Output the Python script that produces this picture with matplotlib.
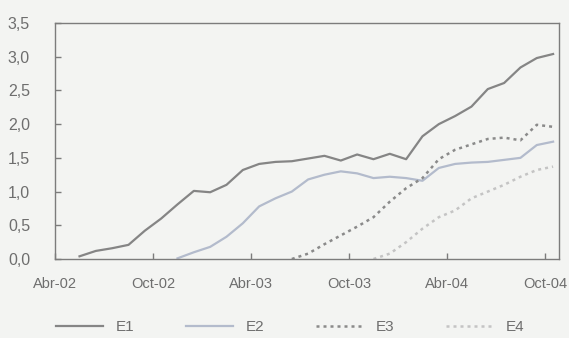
import numpy as np
import matplotlib
matplotlib.use("Agg")
import matplotlib.pyplot as plt

plt.rcParams['font.family'] = ['Liberation Sans', 'DejaVu Sans']

# monthly index counted from Abr-02 (0 = Abr-02)
tick_pos = [0, 6, 12, 18, 24, 30]
tick_labels = ['Abr-02', 'Oct-02', 'Abr-03', 'Oct-03', 'Abr-04', 'Oct-04']

e1_months = list(range(1, 31))
e1 = [0.04, 0.12, 0.16, 0.21, 0.42, 0.60, 0.81, 1.01, 0.99, 1.10,
      1.32, 1.41, 1.44, 1.45, 1.49, 1.53, 1.46, 1.55, 1.48, 1.56,
      1.48, 1.82, 2.00, 2.12, 2.26, 2.52, 2.61, 2.84, 2.98, 3.04]

e2_months = list(range(7, 31))
e2 = [0.01, 0.10, 0.18, 0.33, 0.53, 0.78, 0.90, 1.00, 1.18, 1.25,
      1.30, 1.27, 1.20, 1.22, 1.20, 1.16, 1.35, 1.41, 1.43, 1.44,
      1.47, 1.50, 1.69, 1.74]

e3_months = list(range(14, 31))
e3 = [0.00, 0.08, 0.22, 0.35, 0.48, 0.62, 0.85, 1.05, 1.20, 1.48,
      1.62, 1.70, 1.78, 1.80, 1.76, 1.99, 1.96]

e4_months = list(range(19, 31))
e4 = [0.00, 0.08, 0.25, 0.45, 0.62, 0.72, 0.90, 1.00, 1.10, 1.22,
      1.32, 1.37]

bg = '#f3f4f2'
fig = plt.figure(figsize=(5.69, 3.38), dpi=100, facecolor=bg)
ax = fig.add_axes([0.0967, 0.2337, 0.8857, 0.6983])
ax.set_facecolor(bg)

# points sit in the middle of each month
ax.plot(np.array(e1_months) + 0.5, e1, color='#858585', lw=1.6, label='E1')
ax.plot(np.array(e2_months) + 0.5, e2, color='#b3bbcc', lw=1.6, label='E2')
ax.plot(np.array(e3_months) + 0.5, e3, color='#8a8a8a', lw=1.8,
        ls=(0, (1.2, 1.6)), label='E3')
ax.plot(np.array(e4_months) + 0.5, e4, color='#c4c4c4', lw=1.8,
        ls=(0, (1.2, 1.6)), label='E4')

ax.set_xlim(0, 30.86)
ax.set_ylim(0, 3.5)
ax.set_xticks(tick_pos)
ax.set_xticklabels(tick_labels)
ax.set_yticks(np.arange(0, 3.51, 0.5))
ax.set_yticklabels([f'{v:.1f}'.replace('.', ',') for v in np.arange(0, 3.51, 0.5)])

for s in ax.spines.values():
    s.set_color('#7c7c7c')
    s.set_linewidth(1.0)
ax.tick_params(axis='both', direction='in', length=4, width=1,
               color='#7c7c7c', labelcolor='#6e6e6e')
ax.tick_params(axis='y', pad=18, labelsize=11.5)
ax.tick_params(axis='x', pad=13, labelsize=10.5)

leg = fig.legend(loc='center', bbox_to_anchor=(0.51, 0.032), ncol=4,
                 frameon=False, fontsize=11, handlelength=3.1,
                 handletextpad=0.8, columnspacing=3.4)
for t in leg.get_texts():
    t.set_color('#6e6e6e')

fig.savefig('out.png', dpi=100, facecolor=bg)
